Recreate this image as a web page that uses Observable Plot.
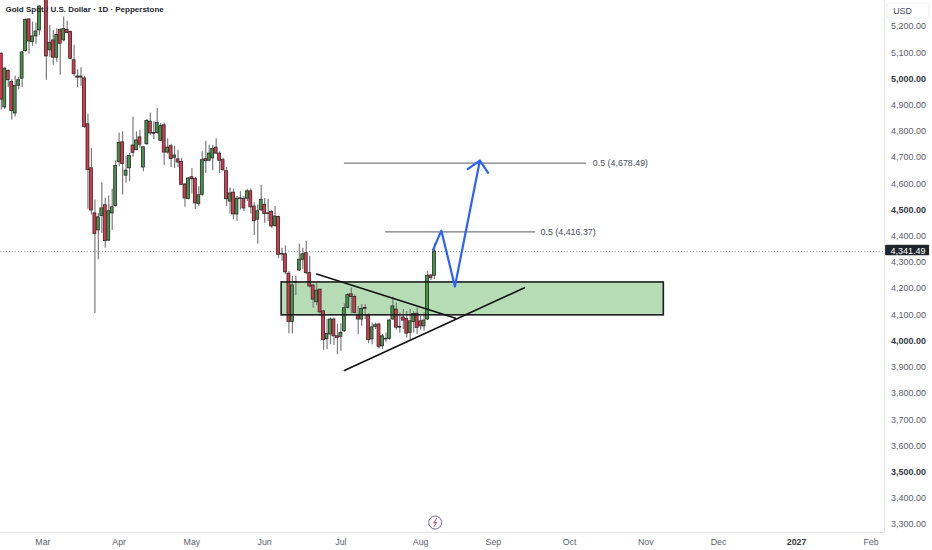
<!DOCTYPE html>
<html>
<head>
<meta charset="utf-8">
<script src="https://cdn.jsdelivr.net/npm/d3@7"></script>
<script src="https://cdn.jsdelivr.net/npm/@observablehq/plot@0.6"></script>
<style>
html,body{margin:0;padding:0;background:#fff}
svg{display:block}
</style>
</head>
<body>
<div id="chart"></div>
<script>
const title = "Gold Spot / U.S. Dollar · 1D · Pepperstone";
const opens = [5096,4891,5030,4988,4868,4974,5001,5106,5227,5140,5162,5185,5330,5400,5109,5147,5081,5187,5147,5187,5179,5071,5009,5009,5002,4827,4659,4487,4422,4477,4518,4383,4487,4515,4683,4758,4631,4659,4746,4728,4777,4662,4751,4837,4794,4794,4764,4823,4719,4743,4699,4693,4683,4597,4542,4625,4619,4523,4558,4694,4688,4697,4738,4715,4690,4648,4532,4566,4483,4544,4542,4543,4571,4513,4463,4499,4520,4487,4492,4439,4473,4332,4331,4257,4073,4225,4269,4310,4335,4259,4212,4148,4196,4113,4008,4025,4082,4018,4016,4037,4127,4178,4168,4098,4082,4126,4098,4006,4054,4063,3980,4008,4008,4082,4120,4054,4090,4084,4031,4073,4104,4075,4056,4082,4250,4249];
const highs = [5100,5045,5035,4997,5010,5005,5104,5229,5229,5217,5213,5280,5440,5420,5204,5185,5191,5190,5236,5220,5182,5128,5035,5043,5010,4865,4735,4538,4487,4604,4545,4553,4579,4688,4794,4798,4706,4716,4855,4798,4804,4741,4845,4870,4836,4887,4830,4832,4771,4751,4743,4728,4697,4601,4624,4658,4624,4589,4722,4762,4747,4747,4772,4722,4697,4662,4585,4579,4551,4570,4551,4579,4581,4528,4519,4594,4544,4541,4497,4513,4477,4354,4363,4265,4246,4246,4369,4354,4380,4323,4215,4224,4198,4117,4082,4088,4088,4064,4066,4142,4181,4202,4177,4132,4139,4139,4104,4069,4069,4069,4025,4031,4082,4167,4145,4107,4120,4113,4120,4113,4126,4094,4107,4265,4253,4371];
const lows = [4881,4883,4967,4843,4855,4959,4967,5102,5094,5124,5132,5166,5315,4995,5083,5052,5064,5014,5141,5172,5073,5010,4967,4972,4811,4503,4481,4105,4310,4411,4354,4380,4422,4510,4665,4557,4602,4608,4701,4726,4735,4646,4746,4785,4769,4789,4760,4670,4713,4662,4658,4662,4595,4510,4538,4561,4502,4513,4551,4639,4684,4650,4713,4639,4648,4513,4485,4462,4456,4500,4494,4532,4485,4403,4369,4494,4449,4456,4430,4434,4314,4304,4253,4028,4028,4173,4265,4274,4253,4202,4126,4135,4094,3965,3967,3986,3983,3948,3961,4033,4122,4104,4103,4025,4056,4082,3990,3986,4044,3970,3967,3993,4003,4079,4041,4031,4044,4012,4003,4031,4025,4041,4037,4079,4231,4234];
const closes = [4921,5039,4995,4878,4973,4995,5101,5225,5143,5162,5181,5276,5420,5086,5138,5081,5168,5134,5190,5175,5077,5018,5005,5005,4817,4652,4498,4408,4472,4506,4381,4495,4510,4668,4756,4675,4650,4706,4718,4765,4749,4739,4840,4792,4791,4832,4820,4719,4738,4694,4708,4681,4596,4544,4620,4617,4525,4556,4690,4686,4715,4733,4715,4688,4652,4541,4563,4483,4543,4542,4506,4571,4510,4457,4495,4539,4485,4485,4437,4475,4329,4330,4262,4073,4212,4222,4310,4331,4259,4208,4158,4192,4109,4003,4027,4082,4018,4012,4031,4125,4175,4168,4107,4082,4123,4123,4003,4052,4060,3978,4018,4006,4078,4132,4051,4051,4078,4028,4075,4103,4050,4056,4078,4249,4240,4341.49];

const lastPrice = 4341.49;
const priceTicks = [5200,5100,4900,4800,4700,4600,4400,4300,4200,4100,3900,3800,3700,3600,3400,3300];
const priceMajor = [5000,4500,4000,3500];
const monthAt = [12,34,55,76,98,121,142,164,186,207,251];
const monthLabels = ["Mar","Apr","May","Jun","Jul","Aug","Sep","Oct","Nov","Dec","Feb"];
const yearAt = [229.5];
const yearLabels = ["2027"];

const zoneI = [80.9,191.2];
const zoneP = [4223.5,4098];
const fibLevels = [4678.49,4416.37];
const fibStart = [99,110.9];
const fibEnd = [168.9,154.2];
const fibLabelAt = [170.7,155.6];
const fibLabels = ["0.5 (4,678.49)","0.5 (4,416.37)"];
const fallI = [91,131.1];
const fallP = [4255.5,4086.6];
const riseI = [99,151];
const riseP = [3887.6,4203.3];
const pathI = [124.6,127,130.9,138.1];
const pathP = [4348,4421,4208,4688];
const headI = [134.6,138.1,140.5];
const headP = [4656,4688,4642];
const boltI = [125.6,124.8,125.6,124.9];
const boltP = [3322.7,3305.6,3307.5,3292.2];

const candles = opens.map((o,i)=>({i,o,h:highs[i],l:lows[i],c:closes[i]}));
const xy = (xs,ys)=>xs.map((x,k)=>({x,y:ys[k]}));
const up = "#429447", down = "#e0344c";
const fmt = d3.format(",.2f");
const font = "'Liberation Sans', Arial, sans-serif";

const chart = Plot.plot({
  width:932, height:550,
  marginTop:0, marginLeft:0, marginRight:48, marginBottom:18,
  style:{fontFamily:font, fontSize:"9px", background:"#fff", color:"#4a4e59"},
  x:{type:"linear", domain:[0,250], range:[0.83,0.83+3.465*250]},
  y:{type:"linear", domain:[3300,5200], range:[524,26]},
  marks:[
    Plot.frame({anchor:"right", stroke:"#e3e5ea"}),
    Plot.frame({anchor:"bottom", stroke:"#e3e5ea"}),
    Plot.axisY({anchor:"right", ticks:priceTicks, tickSize:0, tickPadding:6.5, tickFormat:fmt, label:null, fill:"#5a5f6b", fontSize:9}),
    Plot.axisY({anchor:"right", ticks:priceMajor, tickSize:0, tickPadding:6.5, tickFormat:fmt, label:null, fontWeight:"bold", fill:"#363a43", fontSize:9}),
    Plot.axisX({ticks:monthAt, tickSize:0, tickPadding:6, label:null, fill:"#5a5f6b", fontSize:8.8,
      tickFormat:d=>monthLabels[monthAt.indexOf(d)]}),
    Plot.axisX({ticks:yearAt, tickSize:0, tickPadding:6, label:null, fontWeight:"bold", fill:"#363a43", fontSize:8.8,
      tickFormat:d=>yearLabels[yearAt.indexOf(d)]}),
    Plot.ruleY([lastPrice],{stroke:"#9a9da6", strokeWidth:1, strokeDasharray:"1,2"}),
    Plot.rect([0],{x1:()=>zoneI[0],x2:()=>zoneI[1],y1:()=>zoneP[0],y2:()=>zoneP[1],fill:"#b5dcb4"}),
    Plot.ruleX(candles,{x:"i",y1:"l",y2:"h",stroke:"#7c7c7c",strokeWidth:1.2,clip:true}),
    Plot.rect(candles,{x1:d=>d.i-0.42,x2:d=>d.i+0.42,y1:"o",y2:"c",
      fill:d=>d.c>=d.o?up:down,stroke:"#2a2a2a",strokeWidth:0.8,clip:true}),
    Plot.rect([0],{x1:()=>zoneI[0],x2:()=>zoneI[1],y1:()=>zoneP[0],y2:()=>zoneP[1],fill:"none",stroke:"#1d1d1d",strokeWidth:1.6}),
    Plot.line(xy(fallI,fallP),{x:"x",y:"y",stroke:"#111",strokeWidth:1.5}),
    Plot.line(xy(riseI,riseP),{x:"x",y:"y",stroke:"#111",strokeWidth:1.5}),
    Plot.ruleY(fibLevels,{x1:(d,k)=>fibStart[k],x2:(d,k)=>fibEnd[k],stroke:"#7a7a7a",strokeWidth:1.2}),
    Plot.text(fibLabels,{x:(d,k)=>fibLabelAt[k],y:(d,k)=>fibLevels[k],text:d=>d,textAnchor:"start",fill:"#4a4e59",fontSize:8.9}),
    Plot.line(xy(pathI,pathP),{x:"x",y:"y",stroke:"#2962ff",strokeWidth:2.2}),
    Plot.line(xy(headI,headP),{x:"x",y:"y",stroke:"#2962ff",strokeWidth:2.2}),
    Plot.text([title],{frameAnchor:"top-left",dx:5,dy:6,text:d=>d,fill:"#22262e",fontSize:8,fontWeight:"bold"}),
    Plot.rect([0],{x1:()=>255.7,x2:()=>267.9,y1:()=>5287.5,y2:()=>5230.4,fill:"#fff",stroke:"#eceef1",rx:3}),
    Plot.text(["USD"],{x:()=>257.4,y:()=>5259,text:d=>d,textAnchor:"start",fill:"#4a4e59",fontSize:8.8}),
    Plot.rect([0],{x1:()=>255.2,x2:()=>267.9,y1:()=>4365.7,y2:()=>4325,fill:"#20242c",rx:1}),
    Plot.text([lastPrice],{x:()=>256.6,y:()=>lastPrice,text:d=>fmt(d),textAnchor:"start",fill:"#fff",fontSize:9}),
    Plot.dot([0],{x:()=>125.2,y:()=>3307.5,r:6.5,stroke:"#6d6d92",strokeWidth:1,fill:"#fff"}),
    Plot.line(xy(boltI,boltP),{x:"x",y:"y",stroke:"#c2376f",strokeWidth:1})
  ]
});
document.getElementById("chart").appendChild(chart);
</script>
</body>
</html>
